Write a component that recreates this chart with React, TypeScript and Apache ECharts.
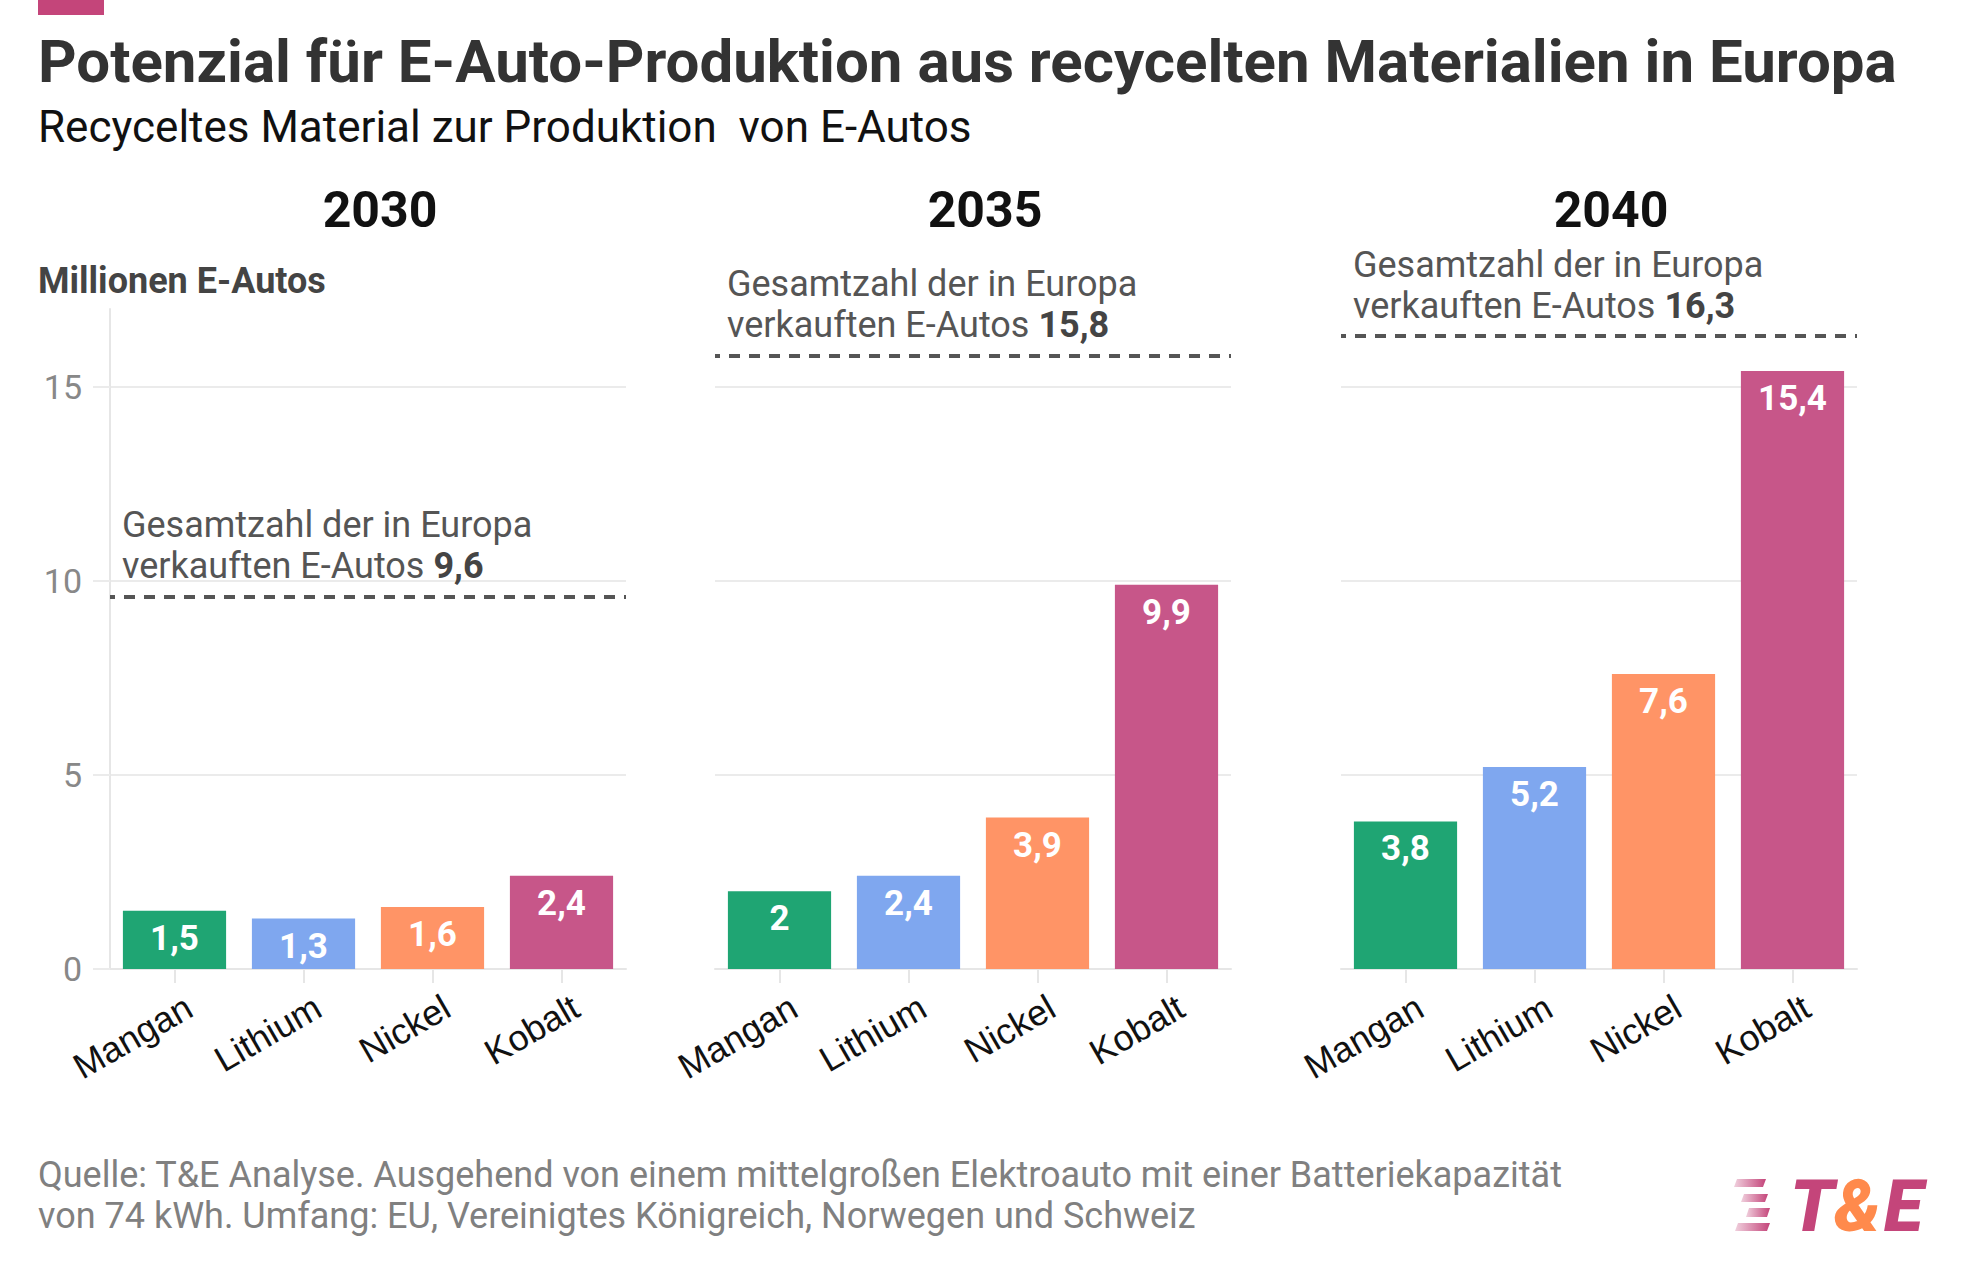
import React, { useEffect, useRef } from "react";
import * as echarts from "echarts";

const categories = ["Mangan", "Lithium", "Nickel", "Kobalt"];
const panelYears = ["2030", "2035", "2040"];
const values2030 = [1.5, 1.3, 1.6, 2.4];
const values2035 = [2, 2.4, 3.9, 9.9];
const values2040 = [3.8, 5.2, 7.6, 15.4];
const totalSold = [9.6, 15.8, 16.3];
const yTickValues = [0, 5, 10, 15];
const barColors = ["#1fa573", "#7fa7ef", "#ff9466", "#c75689"];

const titleText = "Potenzial für E-Auto-Produktion aus recycelten Materialien in Europa";
const subtitleText = "Recyceltes Material zur Produktion  von E-Autos";
const unitText = "Millionen E-Autos";
const sourceLines = [
  "Quelle: T&E Analyse. Ausgehend von einem mittelgroßen Elektroauto mit einer Batteriekapazität",
  "von 74 kWh. Umfang: EU, Vereinigtes Königreich, Norwegen und Schweiz",
];

const panelValues = [values2030, values2035, values2040];
const gridLefts = [110, 715, 1341];
const yearCenters = [380, 985, 1611];

const fmt = (v: number) => String(v).replace(".", ",");
const FONT = "Roboto";

function buildOption() {
  const grids = gridLefts.map((left) => ({ left, width: 516, top: 309, height: 660 }));
  const xAxes = panelValues.map((_, i) => ({
    type: "category",
    gridIndex: i,
    data: categories,
    axisLine: { show: true, lineStyle: { color: "#e6e6e6", width: 2 } },
    axisTick: { show: true, alignWithLabel: true, length: 14, lineStyle: { color: "#e6e6e6", width: 2 } },
    axisLabel: {
      interval: 0,
      rotate: 30,
      fontFamily: "Liberation Sans",
      fontSize: 36,
      color: "#111",
      margin: 10,
      verticalAlign: "top",
      lineHeight: 58,
    },
  }));
  const yAxes = panelValues.map((_, i) => ({
    type: "value",
    gridIndex: i,
    min: 0,
    max: 17,
    interval: 5,
    axisLine: { show: i === 0, lineStyle: { color: "#e6e6e6", width: 2 } },
    axisTick: {
      show: i === 0,
      length: 17,
      customValues: yTickValues,
      lineStyle: { color: "#ebebeb", width: 2 },
    },
    axisLabel: {
      show: i === 0,
      customValues: yTickValues,
      fontFamily: FONT,
      fontSize: 34,
      color: "#888",
      margin: 28,
    },
    splitLine: { show: true, lineStyle: { color: "#ebebeb", width: 2 } },
  }));
  const series = panelValues.map((vals, i) => ({
    type: "bar",
    xAxisIndex: i,
    yAxisIndex: i,
    barCategoryGap: "20%",
    data: vals.map((v, j) => ({ value: v, itemStyle: { color: barColors[j] } })),
    label: {
      show: true,
      position: "insideTop",
      distance: 10,
      color: "#fff",
      fontFamily: FONT,
      fontWeight: "bold",
      fontSize: 35,
      formatter: (p: any) => fmt(p.value),
    },
    markLine: {
      silent: true,
      symbol: ["none", "none"],
      data: [{ yAxis: totalSold[i] }],
      lineStyle: { type: [11, 9], dashOffset: 6, color: "#555", width: 4 },
      label: {
        show: true,
        position: "insideStartTop",
        distance: [12, 10],
        formatter: () => `Gesamtzahl der in Europa\nverkauften E-Autos {b|${fmt(totalSold[i])}}`,
        color: "#555",
        fontFamily: FONT,
        fontSize: 36,
        lineHeight: 41,
        rich: {
          b: { fontFamily: FONT, fontSize: 36, fontWeight: "bold", color: "#444", lineHeight: 41 },
        },
      },
    },
  }));

  const txt = (x: number, y: number, text: string, font: string, fill: string, align = "left") => ({
    type: "text",
    x,
    y,
    silent: true,
    style: { text, font, fill, align, verticalAlign: "middle", textAlign: align, textVerticalAlign: "middle" },
  });

  const stripes = [
    [1734, 1766, 1179, 1187],
    [1741, 1768, 1194, 1202],
    [1746, 1770, 1208, 1217],
    [1735, 1770, 1223, 1231],
  ];
  const graphic: any[] = [
    { type: "rect", shape: { x: 38, y: 0, width: 66, height: 15 }, style: { fill: "#c4457a" } },
    txt(38, 61, titleText, `bold 60px ${FONT}`, "#333"),
    txt(38, 127, subtitleText, `44px ${FONT}`, "#111"),
    ...panelYears.map((y, i) => txt(yearCenters[i], 210, y, `bold 50px ${FONT}`, "#111", "center")),
    txt(38, 281, unitText, `bold 36px ${FONT}`, "#444"),
    txt(38, 1175, sourceLines[0], `36px ${FONT}`, "#808080"),
    txt(38, 1216, sourceLines[1], `36px ${FONT}`, "#808080"),
    ...stripes.map(([x1, x2, y1, y2]) => ({
      type: "polygon",
      silent: true,
      shape: { points: [[x1 + 3, y1], [x2, y1], [x2 - 3, y2], [x1, y2]] },
      style: {
        fill: new echarts.graphic.LinearGradient(0, 0, 1, 0, [
          { offset: 0, color: "rgba(196,69,122,0.25)" },
          { offset: 1, color: "#c4457a" },
        ]),
      },
    })),
    txt(1790, 1206, "T", `italic 900 72px ${FONT}`, "#c4457a"),
    txt(1834, 1206, "&", `italic 900 72px ${FONT}`, "#ff8a4c"),
    txt(1884, 1206, "E", `italic 900 72px ${FONT}`, "#c4457a"),
  ];

  return {
    animation: false,
    backgroundColor: "#fff",
    grid: grids,
    xAxis: xAxes,
    yAxis: yAxes,
    series,
    graphic,
  };
}

export default function App() {
  const ref = useRef<HTMLDivElement>(null);
  useEffect(() => {
    if (!ref.current) return;
    const chart = echarts.init(ref.current, undefined, { renderer: "svg" });
    chart.setOption(buildOption() as any);
    return () => chart.dispose();
  }, []);
  return (
    <div
      ref={ref}
      style={{ position: "fixed", left: 0, top: 0, width: 1964, height: 1268, background: "#fff" }}
    />
  );
}
